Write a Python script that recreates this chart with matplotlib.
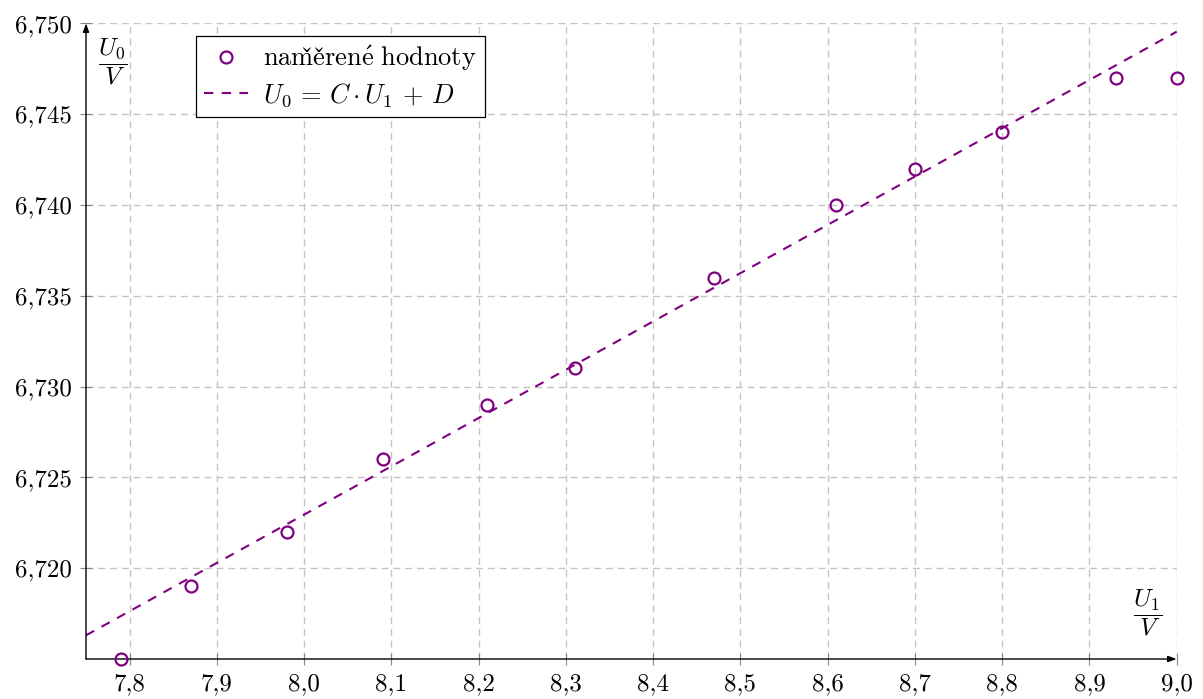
import numpy as np
import matplotlib
matplotlib.use("Agg")
import matplotlib.pyplot as plt

plt.rcParams["mathtext.fontset"] = "cm"
plt.rcParams["font.family"] = ["cmr10", "DejaVu Serif"]
plt.rcParams["axes.unicode_minus"] = False

# measured values
u1 = [7.79, 7.87, 7.98, 8.09, 8.21, 8.31, 8.47, 8.61, 8.70, 8.80, 8.93, 9.00]
u0 = [6.715, 6.719, 6.722, 6.726, 6.729, 6.731, 6.736, 6.740, 6.742, 6.744, 6.747, 6.747]

# fitted line U0 = C*U1 + D
C = 0.02659
D = 6.51023

x_ticks = [7.8, 7.9, 8.0, 8.1, 8.2, 8.3, 8.4, 8.5, 8.6, 8.7, 8.8, 8.9, 9.0]
x_labels = ["7,8", "7,9", "8,0", "8,1", "8,2", "8,3", "8,4", "8,5", "8,6", "8,7", "8,8", "8,9", "9,0"]
y_ticks = [6.720, 6.725, 6.730, 6.735, 6.740, 6.745, 6.750]
y_labels = ["6,720", "6,725", "6,730", "6,735", "6,740", "6,745", "6,750"]

x_min, x_max = 7.75, 9.0
y_min, y_max = 6.715, 6.750

purple = "#800080"

W, H = 1203, 699
fig = plt.figure(figsize=(W / 100, H / 100), dpi=100)
ax = fig.add_axes([86 / W, (H - 659) / H, (1176.7 - 86) / W, (659 - 23.3) / H])
ax.set_xlim(x_min, x_max)
ax.set_ylim(y_min, y_max)

xf = np.array([x_min, x_max])
ax.plot(xf, C * xf + D, color=purple, lw=1.5, dashes=(4.5, 4.0),
        label=r"$U_0 \,=\, C \cdot U_1 \,+\, D$", zorder=3, clip_on=False)
ax.plot(u1, u0, linestyle="none", marker="o", markersize=8.6, markeredgewidth=1.6,
        markerfacecolor="none", markeredgecolor=purple,
        label=r"$\mathrm{nam\check{e}\check{r}en\acute{e}\ hodnoty}$", zorder=4, clip_on=False)

ax.set_xticks(x_ticks)
ax.set_xticklabels(x_labels)
ax.set_yticks(y_ticks)
ax.set_yticklabels(y_labels)
ax.tick_params(direction="inout", length=8, width=0.8, color="#888888",
               labelsize=18, pad=6)

ax.grid(True, color="#c4c4c4", lw=1.0, dashes=(5, 3.5))
ax.set_axisbelow(True)

for s in ["top", "right", "left", "bottom"]:
    ax.spines[s].set_visible(False)

# axis lines with arrow tips
ax.annotate("", xy=(1.0, 0.0), xytext=(0.0, 0.0), xycoords="axes fraction",
            arrowprops=dict(arrowstyle="-|>,head_length=0.5,head_width=0.18",
                            lw=1.0, color="black", shrinkA=0, shrinkB=0))
ax.annotate("", xy=(0.0, 1.0), xytext=(0.0, 0.0), xycoords="axes fraction",
            arrowprops=dict(arrowstyle="-|>,head_length=0.5,head_width=0.18",
                            lw=1.0, color="black", shrinkA=0, shrinkB=0))

# axis labels
fig.text(113 / W, 1 - 61.7 / H, r"$\dfrac{U_0}{V}$", fontsize=18,
         ha="center", va="center")
fig.text(1148 / W, 1 - 613.3 / H, r"$\dfrac{U_1}{V}$", fontsize=18,
         ha="center", va="center")

handles, labels = ax.get_legend_handles_labels()
leg = ax.legend(handles[::-1], labels[::-1], loc="upper left",
                bbox_to_anchor=((195.7 - 86) / (1176.7 - 86), 1 - (35.7 - 23.3) / (659 - 23.3)),
                fontsize=19, frameon=True, fancybox=False, edgecolor="black",
                framealpha=1.0, handlelength=1.7, handletextpad=0.55,
                borderpad=0.3, labelspacing=0.3, borderaxespad=0)
leg.get_frame().set_linewidth(0.9)

fig.savefig("out.png", dpi=100)
